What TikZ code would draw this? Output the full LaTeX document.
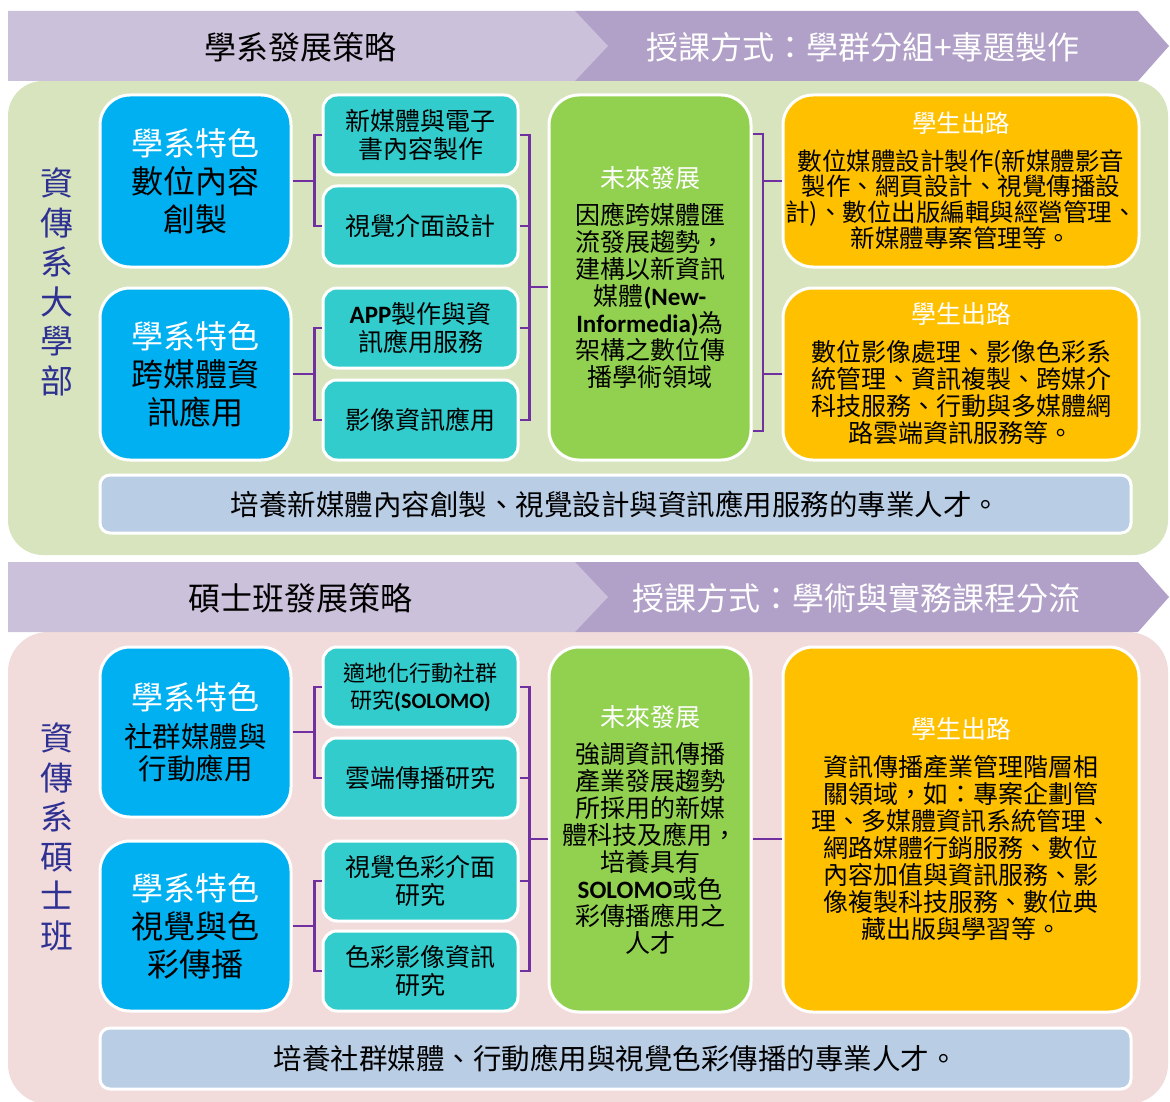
\documentclass[tikz,border=0pt]{standalone}
\usepackage{fontspec}
\setmainfont{Noto Sans CJK TC}
\newfontfamily\carlito{Carlito}
\usetikzlibrary{calc}

\definecolor{bannerlight}{HTML}{CCC1DA}
\definecolor{bannerdark}{HTML}{B1A0C7}
\definecolor{panelgreen}{HTML}{D7E4BD}
\definecolor{panelpink}{HTML}{F2DCDB}
\definecolor{featblue}{HTML}{00B0F0}
\definecolor{topicteal}{HTML}{33CCCC}
\definecolor{futuregreen}{HTML}{92D050}
\definecolor{careerorange}{HTML}{FFC000}
\definecolor{goalblue}{HTML}{B9CDE5}
\definecolor{linkpurple}{HTML}{7030A0}
\definecolor{deptblue}{HTML}{2E3192}

\newcommand{\lat}[1]{{\carlito\bfseries #1}}
\newcommand{\wt}[1]{{\color{white}#1}}
\newcommand{\featsmall}{\fontsize{28.5}{32}\selectfont}

\tikzset{
  box/.style={draw=white, line width=3pt, align=center, inner sep=0pt},
  featbox/.style={box, fill=featblue, rounded corners=30pt, minimum width=191pt,
    minimum height=172pt, font=\fontsize{32}{38}\selectfont},
  topicbox/.style={box, fill=topicteal, rounded corners=14pt, minimum width=195pt,
    minimum height=80pt, font=\fontsize{25}{28}\selectfont},
  futurebox/.style={box, fill=futuregreen, rounded corners=30pt, minimum width=202pt,
    minimum height=365pt, font=\fontsize{25}{27}\selectfont},
  careerbox/.style={box, fill=careerorange, rounded corners=30pt, minimum width=356pt,
    font=\fontsize{25}{27}\selectfont},
  goalbar/.style={box, fill=goalblue, rounded corners=10pt, minimum width=1031pt,
    font=\fontsize{28.5}{32}\selectfont},
  link/.style={draw=linkpurple, line width=2.5pt},
  sidetext/.style={align=center, text=deptblue, font=\fontsize{33}{39.5}\selectfont},
  bannertext/.style={font=\fontsize{32}{36}\selectfont}
}

\begin{document}
\begin{tikzpicture}[x=1pt,y=-1pt]
\useasboundingbox (0,0) rectangle (1170,1102);
\fill[white] (0,0) rectangle (1170,1102);

% Bachelor panel and banner
\fill[panelgreen, rounded corners=35pt] (8,81) rectangle (1168,555);
\fill[bannerdark] (575,11) -- (1138,11) -- (1169,46) -- (1138,81) -- (575,81) -- cycle;
\fill[bannerlight] (8,11) -- (575,11) -- (608,46) -- (575,81) -- (8,81) -- cycle;
\node[bannertext] (ba-strat) at (300,47) {學系發展策略};
\node[bannertext, text=white] (ba-teach) at (863,47) {授課方式：學群分組+專題製作};

% Bachelor boxes
\node[sidetext] (ba-side) at (57,282) {資\\傳\\系\\大\\學\\部};
\node[featbox] (ba-feat1) at (195.5,181) {\wt{學系特色}\\數位內容\\創製};
\node[featbox] (ba-feat2) at (195.5,374) {\wt{學系特色}\\跨媒體資\\訊應用};
\node[topicbox] (ba-top1) at (420.5,135) {新媒體與電子\\書內容製作};
\node[topicbox] (ba-top2) at (420.5,226) {視覺介面設計};
\node[topicbox] (ba-top3) at (420.5,328) {\lat{APP}製作與資\\訊應用服務};
\node[topicbox] (ba-top4) at (420.5,420) {影像資訊應用};
\node[futurebox] (ba-fut) at (650,277.5) {\wt{未來發展}\\[10pt]因應跨媒體匯\\流發展趨勢，\\建構以新資訊\\媒體\lat{(New-}\\\lat{Informedia)}為\\架構之數位傳\\播學術領域};
\node[careerbox, minimum height=172pt, font=\fontsize{24.5}{25.5}\selectfont] (ba-car1) at (961,181)
  {\wt{學生出路}\\[12pt]數位媒體設計製作(新媒體影音\\製作、網頁設計、視覺傳播設\\計)、數位出版編輯與經營管理、\\新媒體專案管理等。};
\node[careerbox, minimum height=172pt] (ba-car2) at (961,374)
  {\wt{學生出路}\\[11pt]數位影像處理、影像色彩系\\統管理、資訊複製、跨媒介\\科技服務、行動與多媒體網\\路雲端資訊服務等。};
\node[goalbar, minimum height=58pt] (ba-goal) at (615.5,504) {培養新媒體內容創製、視覺設計與資訊應用服務的專業人才。};

% Bachelor connectors
\draw[link] (ba-feat1.east) -- ++(22,0) coordinate (ba-k1);
\draw[link] (ba-top1.west) -- (ba-top1.west -| ba-k1) -- (ba-top2.west -| ba-k1) -- (ba-top2.west);
\draw[link] (ba-feat2.east) -- ++(22,0) coordinate (ba-k2);
\draw[link] (ba-top3.west) -- (ba-top3.west -| ba-k2) -- (ba-top4.west -| ba-k2) -- (ba-top4.west);
\draw[link] (ba-top1.east) -- ++(10,0) coordinate (ba-k3) -- (ba-top4.east -| ba-k3) -- (ba-top4.east);
\draw[link] (ba-top2.east) -- (ba-top2.east -| ba-k3);
\draw[link] (ba-top3.east) -- (ba-top3.east -| ba-k3);
\coordinate (ba-join) at (528,287);
\draw[link] (ba-join) -- (ba-join -| ba-fut.west);
\coordinate (ba-brk1) at (763,134);
\coordinate (ba-brk2) at (763,431);
\draw[link] (ba-brk1 -| ba-fut.east) -- (ba-brk1) -- (ba-brk2) -- (ba-brk2 -| ba-fut.east);
\draw[link] (ba-car1.west -| ba-brk1) -- (ba-car1.west);
\draw[link] (ba-car2.west -| ba-brk1) -- (ba-car2.west);

% Master panel and banner
\fill[panelpink, rounded corners=40pt] (8,632) rectangle (1168,1104);
\fill[bannerdark] (575,562) -- (1138,562) -- (1169,597) -- (1138,632) -- (575,632) -- cycle;
\fill[bannerlight] (8,562) -- (575,562) -- (608,597) -- (575,632) -- (8,632) -- cycle;
\node[bannertext] (ms-strat) at (300,598) {碩士班發展策略};
\node[bannertext, text=white] (ms-teach) at (856,598) {授課方式：學術與實務課程分流};

% Master boxes
\node[sidetext] (ms-side) at (57,837) {資\\傳\\系\\碩\\士\\班};
\node[featbox, minimum height=170pt] (ms-feat1) at (195.5,732) {\wt{學系特色}\\{\featsmall 社群媒體與}\\[-6pt]{\featsmall 行動應用}};
\node[featbox, minimum height=170pt] (ms-feat2) at (195.5,926) {\wt{學系特色}\\視覺與色\\彩傳播};
\node[topicbox, font=\fontsize{22}{27}\selectfont] (ms-top1) at (420.5,687) {適地化行動社群\\研究\lat{(SOLOMO)}};
\node[topicbox] (ms-top2) at (420.5,778) {雲端傳播研究};
\node[topicbox] (ms-top3) at (420.5,881) {視覺色彩介面\\研究};
\node[topicbox] (ms-top4) at (420.5,971) {色彩影像資訊\\研究};
\node[futurebox] (ms-fut) at (650,829.5) {\wt{未來發展}\\[10pt]強調資訊傳播\\產業發展趨勢\\所採用的新媒\\體科技及應用，\\培養具有\\\lat{SOLOMO}或色\\彩傳播應用之\\人才};
\node[careerbox, minimum height=365pt] (ms-car) at (961,829.5)
  {\wt{學生出路}\\[11pt]資訊傳播產業管理階層相\\關領域，如：專案企劃管\\理、多媒體資訊系統管理、\\網路媒體行銷服務、數位\\內容加值與資訊服務、影\\像複製科技服務、數位典\\藏出版與學習等。};
\node[goalbar, minimum height=61pt] (ms-goal) at (615.5,1058.5) {培養社群媒體、行動應用與視覺色彩傳播的專業人才。};

% Master connectors
\draw[link] (ms-feat1.east) -- ++(22,0) coordinate (ms-k1);
\draw[link] (ms-top1.west) -- (ms-top1.west -| ms-k1) -- (ms-top2.west -| ms-k1) -- (ms-top2.west);
\draw[link] (ms-feat2.east) -- ++(22,0) coordinate (ms-k2);
\draw[link] (ms-top3.west) -- (ms-top3.west -| ms-k2) -- (ms-top4.west -| ms-k2) -- (ms-top4.west);
\draw[link] (ms-top1.east) -- ++(10,0) coordinate (ms-k3) -- (ms-top4.east -| ms-k3) -- (ms-top4.east);
\draw[link] (ms-top2.east) -- (ms-top2.east -| ms-k3);
\draw[link] (ms-top3.east) -- (ms-top3.east -| ms-k3);
\coordinate (ms-join) at (528,839);
\draw[link] (ms-join) -- (ms-join -| ms-fut.west);
\draw[link] (ms-fut.east |- ms-join) -- (ms-car.west |- ms-join);

\end{tikzpicture}
\end{document}
